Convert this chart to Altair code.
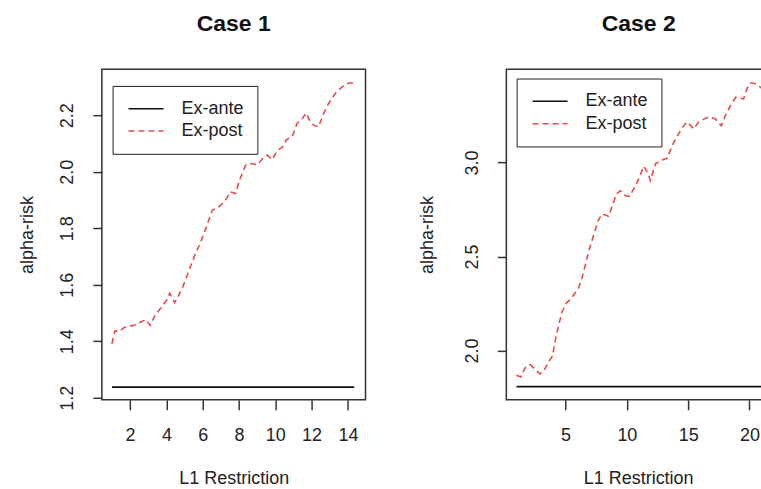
import altair as alt
import pandas as pd

FONT = "Liberation Sans"
series_names = ["Ex-ante", "Ex-post"]
series_colors = ["#111111", "#e84a4a"]
series_dashes = [[1, 0], [6, 4]]

# Case 1
case1_x = [1.0, 1.16, 1.41, 1.68, 2.26, 2.86, 3.11, 3.36, 3.69, 4.02, 4.18, 4.46, 4.65, 4.90, 5.17,
           5.43, 5.66, 5.83, 6.16, 6.53, 6.89, 7.26, 7.53, 7.81, 8.03, 8.36, 8.69, 9.02, 9.29, 9.55,
           9.82, 10.12, 10.39, 10.61, 10.94, 11.20, 11.47, 11.71, 11.89, 12.11, 12.38, 12.66, 12.93,
           13.30, 13.67, 14.03, 14.29]
case1_post = [1.391, 1.437, 1.435, 1.449, 1.458, 1.477, 1.456, 1.490, 1.518, 1.546, 1.570, 1.537,
              1.560, 1.592, 1.638, 1.682, 1.719, 1.741, 1.797, 1.864, 1.876, 1.900, 1.929, 1.923,
              1.970, 2.023, 2.029, 2.025, 2.046, 2.059, 2.043, 2.076, 2.087, 2.113, 2.126, 2.171,
              2.188, 2.208, 2.182, 2.165, 2.159, 2.206, 2.241, 2.277, 2.300, 2.314, 2.314]
case1_ante_x = [1.0, 14.35]
case1_ante = [1.238, 1.238]
case1_xticks = [2, 4, 6, 8, 10, 12, 14]
case1_yticks = [1.2, 1.4, 1.6, 1.8, 2.0, 2.2]

# Case 2 (the original figure is cut off on the right)
case2_x = [1.0, 1.34, 1.74, 2.15, 2.42, 2.92, 3.29, 3.62, 3.94, 4.19, 4.43, 4.70, 5.08, 5.41, 5.73,
           6.06, 6.34, 6.60, 6.87, 7.28, 7.65, 7.97, 8.50, 8.83, 9.15, 9.48, 9.89, 10.21, 10.56,
           10.97, 11.38, 11.73, 11.92, 12.33, 12.74, 13.28, 13.69, 14.08, 14.50, 14.91, 15.45,
           15.85, 16.32, 16.73, 17.21, 17.70, 18.03, 18.52, 18.88, 19.52, 19.82, 20.11, 20.47,
           20.88, 21.3, 21.75]
case2_post = [1.868, 1.859, 1.912, 1.924, 1.905, 1.876, 1.900, 1.938, 1.972, 2.062, 2.133, 2.204,
              2.254, 2.272, 2.302, 2.334, 2.387, 2.452, 2.523, 2.612, 2.690, 2.727, 2.714, 2.770,
              2.834, 2.849, 2.823, 2.820, 2.860, 2.913, 2.980, 2.940, 2.904, 2.993, 3.011, 3.022,
              3.089, 3.137, 3.185, 3.216, 3.179, 3.215, 3.232, 3.243, 3.232, 3.195, 3.250, 3.312,
              3.347, 3.339, 3.397, 3.424, 3.419, 3.401, 3.38, 3.41]
case2_ante_x = [1.0, 21.75]
case2_ante = [1.808, 1.808]
case2_xticks = [5, 10, 15, 20]
case2_yticks = [2.0, 2.5, 3.0]


def make_df(px, py, ax, ay):
    rows = [{"x": a, "y": b, "series": "Ex-post"} for a, b in zip(px, py)]
    rows += [{"x": a, "y": b, "series": "Ex-ante"} for a, b in zip(ax, ay)]
    return pd.DataFrame(rows)


def panel(df, title, xdom, ydom, xticks, yticks, w, h, ytitle_x, xtitle_x, title_dx, legx, legy):
    legend = alt.Legend(
        title=None, orient="none", legendX=legx, legendY=legy,
        strokeColor="#222222", padding=13.3, symbolType="M-2,0H2", symbolSize=306,
        symbolStrokeWidth=1.5, symbolOffset=10.7, labelFont=FONT, labelFontSize=18,
        labelColor="#222222", labelOffset=26, rowPadding=3.4, fillColor="white",
    )
    return alt.Chart(df).mark_line(strokeWidth=1.6, clip=True).encode(
        x=alt.X("x:Q", scale=alt.Scale(domain=xdom, nice=False, zero=False),
                axis=alt.Axis(values=xticks, title="L1 Restriction", format="d",
                              tickSize=10, labelPadding=17, labelBaseline="top",
                              titleX=xtitle_x, titleY=79, titleAlign="center",
                              titleBaseline="middle")),
        y=alt.Y("y:Q", scale=alt.Scale(domain=ydom, nice=False, zero=False),
                axis=alt.Axis(values=yticks, title="alpha-risk", format=".1f",
                              tickSize=9, labelAngle=270, labelAlign="center",
                              labelBaseline="middle", labelPadding=25,
                              titleX=ytitle_x, titleY=h / 2, titleAngle=270,
                              titleAlign="center", titleBaseline="middle")),
        color=alt.Color("series:N", scale=alt.Scale(domain=series_names, range=series_colors),
                        legend=legend),
        strokeDash=alt.StrokeDash("series:N",
                                  scale=alt.Scale(domain=series_names, range=series_dashes),
                                  legend=legend),
    ).properties(
        width=w, height=h,
        title=alt.TitleParams(title, font=FONT, fontSize=23, fontWeight="bold",
                              color="#111111", anchor="middle", offset=33, dx=title_dx),
    )


p1 = panel(make_df(case1_x, case1_post, case1_ante_x, case1_ante), "Case 1",
           [0.445, 14.97], [1.193, 2.363], case1_xticks, case1_yticks,
           264, 331, -74, 132, 0, 10.7, 16.7)
p2 = panel(make_df(case2_x, case2_post, case2_ante_x, case2_ante), "Case 2",
           [0.17, 21.10], [1.738, 3.496], case2_xticks, case2_yticks,
           257, 331, -79, 132, 4, 10.3, 9.3)

chart = alt.hconcat(p1, p2, spacing=141, bounds="flush").resolve_scale(
    x="independent", y="independent", color="independent", strokeDash="independent"
).resolve_legend(color="independent", strokeDash="independent").properties(
    padding={"left": 18, "top": 12, "right": -3, "bottom": 0},
    background="white",
).configure_view(
    stroke="#333333", strokeWidth=1.5
).configure_axis(
    domain=False, grid=False, tickColor="#333333", tickWidth=1.5,
    labelFont=FONT, labelFontSize=18, labelColor="#222222",
    titleFont=FONT, titleFontSize=18, titleFontWeight="normal", titleColor="#222222",
)

chart.save("out.html", embed_options={"renderer": "svg", "actions": False})
